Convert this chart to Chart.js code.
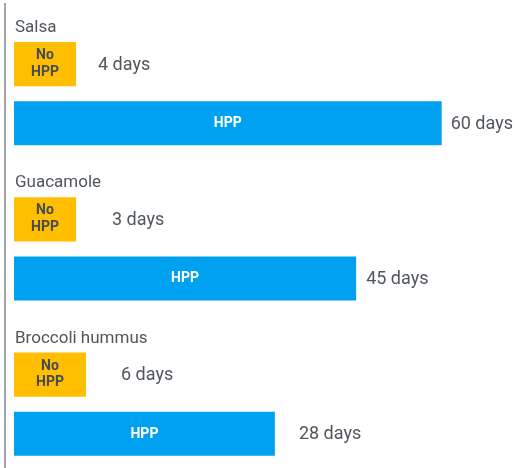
<!DOCTYPE html>
<html>
<head>
<meta charset="utf-8">
<script src="https://cdn.jsdelivr.net/npm/chart.js@4/dist/chart.umd.min.js"></script>
<style>
  html, body { margin: 0; padding: 0; background: #ffffff; overflow: hidden; }
  #wrap { position: relative; width: 523px; height: 483px; }
</style>
</head>
<body>
<div id="wrap"><canvas id="c"></canvas></div>
<script>
// ---- data ----
const categories = ['Salsa', 'Guacamole', 'Broccoli hummus'];
const seriesNames = ['No HPP', 'HPP'];
// shelf life shown in the labels (days)
const noHppDays = [4, 3, 6];
const hppDays = [60, 45, 28];
// bar lengths as drawn in the picture (not to scale), in days units
const noHppBar = [8.7, 8.7, 10.1];
const hppBar = [60, 48, 36.6];
const unitLabel = 'days';

const labelPlugin = {
  id: 'labels',
  beforeDatasetsDraw(chart) {
    const ctx = chart.ctx, a = chart.chartArea;
    ctx.save();
    ctx.strokeStyle = '#a3a7ad';
    ctx.lineWidth = 2;
    ctx.beginPath();
    ctx.moveTo(a.left, 3);
    ctx.lineTo(a.left, chart.height);
    ctx.stroke();
    ctx.restore();
  },
  afterDatasetsDraw(chart, args, opts) {
    const ctx = chart.ctx;
    ctx.save();
    const m0 = chart.getDatasetMeta(0), m1 = chart.getDatasetMeta(1);
    // category titles above the first bar of each group
    ctx.font = '17px Roboto';
    ctx.fillStyle = '#50565e';
    ctx.textAlign = 'left';
    ctx.textBaseline = 'alphabetic';
    m0.data.forEach((bar, i) => {
      const top = bar.y - bar.height / 2;
      ctx.fillText(categories[i], bar.base + 1, top - 10);
    });
    // text inside bars
    ctx.textAlign = 'center';
    ctx.textBaseline = 'middle';
    ctx.font = 'bold 14px Roboto';
    m0.data.forEach((bar) => {
      const cx = (bar.base + bar.x) / 2;
      ctx.fillStyle = '#464c54';
      ctx.fillText('No', cx, bar.y - 8.5);
      ctx.fillText('HPP', cx, bar.y + 8);
    });
    m1.data.forEach((bar) => {
      const cx = (bar.base + bar.x) / 2;
      ctx.fillStyle = '#ffffff';
      ctx.fillText('HPP', cx, bar.y + 0.5);
    });
    // value labels
    ctx.textAlign = 'left';
    ctx.font = '18px Roboto';
    ctx.fillStyle = '#50565e';
    m0.data.forEach((bar, i) => {
      ctx.fillText(noHppDays[i] + ' ' + unitLabel, bar.x + opts.gapNo[i], bar.y + 1);
    });
    m1.data.forEach((bar, i) => {
      ctx.fillText(hppDays[i] + ' ' + unitLabel, bar.x + opts.gapHpp[i], bar.y + 1);
    });
    ctx.restore();
  }
};

new Chart(document.getElementById('c'), {
  type: 'bar',
  data: {
    labels: categories,
    datasets: [
      { label: seriesNames[0], data: noHppBar, backgroundColor: '#ffbf00',
        categoryPercentage: 0.761, barPercentage: 0.746 },
      { label: seriesNames[1], data: hppBar, backgroundColor: '#00a1f1',
        categoryPercentage: 0.761, barPercentage: 0.746 }
    ]
  },
  options: {
    indexAxis: 'y',
    responsive: true,
    maintainAspectRatio: false,
    animation: false,
    layout: { padding: { left: 5, right: 0, top: 16, bottom: 1.2 } },
    scales: {
      x: { display: false, min: -1.263, max: 71.41 },
      y: { display: false }
    },
    plugins: {
      legend: { display: false },
      tooltip: { enabled: false },
      labels: { gapNo: [22, 36, 35], gapHpp: [9, 10, 24] }
    }
  },
  plugins: [labelPlugin]
});
</script>
</body>
</html>
